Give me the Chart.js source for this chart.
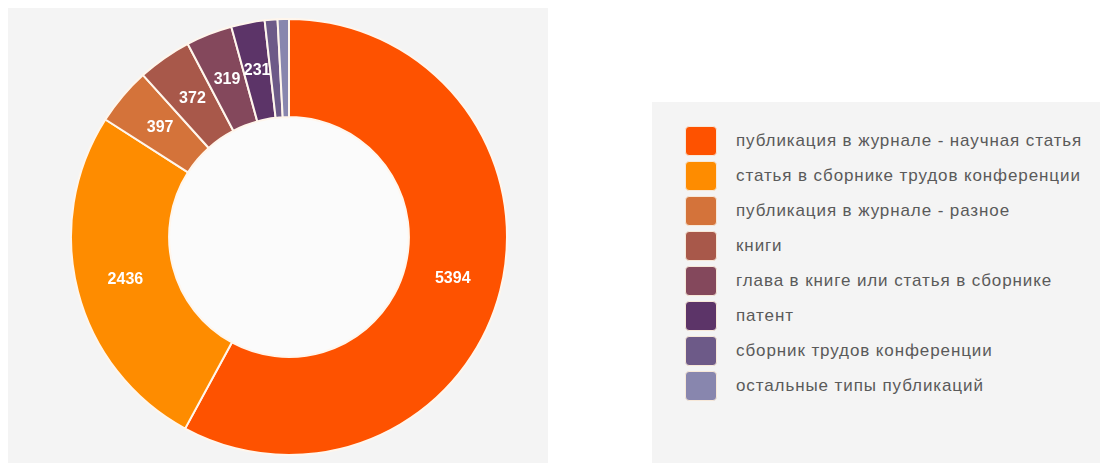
<!DOCTYPE html>
<html lang="ru">
<head>
  <meta charset="UTF-8" />
  <title>Типы публикаций</title>
  <script src="https://cdn.jsdelivr.net/npm/chart.js"></script>
  <style>
    body {
      margin: 0;
      width: 1108px;
      height: 463px;
      background: #ffffff;
      font-family: 'Liberation Sans', Arial, sans-serif;
      position: relative;
      overflow: hidden;
    }

    .panel-chart {
      position: absolute;
      left: 8px;
      top: 8px;
      width: 540px;
      height: 455px;
      background: #f4f4f4;
    }

    #donut {
      position: absolute;
      left: 69px;
      top: 17px;
    }

    .panel-legend {
      position: absolute;
      left: 652px;
      top: 102px;
      width: 448px;
      height: 361px;
      background: #f4f4f4;
    }

    #legend {
      list-style: none;
      margin: 0;
      padding: 0;
      position: absolute;
      left: 33px;
      top: 21px;
    }

    #legend li {
      display: flex;
      align-items: center;
      height: 35px;
    }

    #legend .box {
      width: 32px;
      height: 30px;
      border-radius: 4px;
      box-sizing: border-box;
      border: 1px solid #f7e8d8;
      margin-right: 19px;
    }

    #legend .txt {
      font-size: 17px;
      letter-spacing: 0.9px;
      color: #5a5a5a;
      white-space: nowrap;
    }
  </style>
</head>

<body>
  <div class="panel-chart"></div>
  <canvas id="donut" width="440" height="440"></canvas>

  <div class="panel-legend">
    <ul id="legend"></ul>
  </div>

  <script>
    const labels = [
      'публикация в журнале - научная статья',
      'статья в сборнике трудов конференции',
      'публикация в журнале - разное',
      'книги',
      'глава в книге или статья в сборнике',
      'патент',
      'сборник трудов конференции',
      'остальные типы публикаций'
    ];
    const values = [5394, 2436, 397, 372, 319, 231, 88, 78];
    const colors = ['#fe5200', '#fe8c00', '#d4733a', '#a8584a', '#84485c', '#5c3468', '#6d5a88', '#8886ae'];

    // светлая середина кольца + подписи значений внутри сегментов
    const valueLabels = {
      id: 'valueLabels',
      beforeDatasetsDraw(chart) {
        const arc = chart.getDatasetMeta(0).data[0];
        if (!arc) return;
        const ctx = chart.ctx;
        ctx.save();
        ctx.fillStyle = '#fbfbfb';
        ctx.beginPath();
        ctx.arc(arc.x, arc.y, arc.innerRadius, 0, Math.PI * 2);
        ctx.fill();
        ctx.restore();
      },
      afterDatasetsDraw(chart) {
        const ctx = chart.ctx;
        const meta = chart.getDatasetMeta(0);
        ctx.save();
        ctx.font = 'bold 16px "Liberation Sans", Arial, sans-serif';
        ctx.fillStyle = '#ffffff';
        ctx.textAlign = 'center';
        ctx.textBaseline = 'middle';
        meta.data.forEach((arc, i) => {
          if (values[i] < 200) return;
          const p = arc.tooltipPosition();
          ctx.fillText(values[i], p.x, p.y);
        });
        ctx.restore();
      }
    };

    const chart = new Chart(document.getElementById('donut'), {
      type: 'doughnut',
      data: {
        labels: labels,
        datasets: [{
          data: values,
          backgroundColor: colors,
          borderColor: '#fff6ec',
          borderWidth: 2
        }]
      },
      options: {
        responsive: false,
        animation: false,
        cutout: '55%',
        layout: { padding: 1 },
        plugins: {
          legend: { display: false },
          tooltip: { enabled: false }
        }
      },
      plugins: [valueLabels]
    });

    const legend = document.getElementById('legend');
    labels.forEach((name, i) => {
      const li = document.createElement('li');
      li.innerHTML = '<span class="box" style="background:' + colors[i] + '"></span><span class="txt">' + name + '</span>';
      legend.appendChild(li);
    });
  </script>
</body>
</html>
